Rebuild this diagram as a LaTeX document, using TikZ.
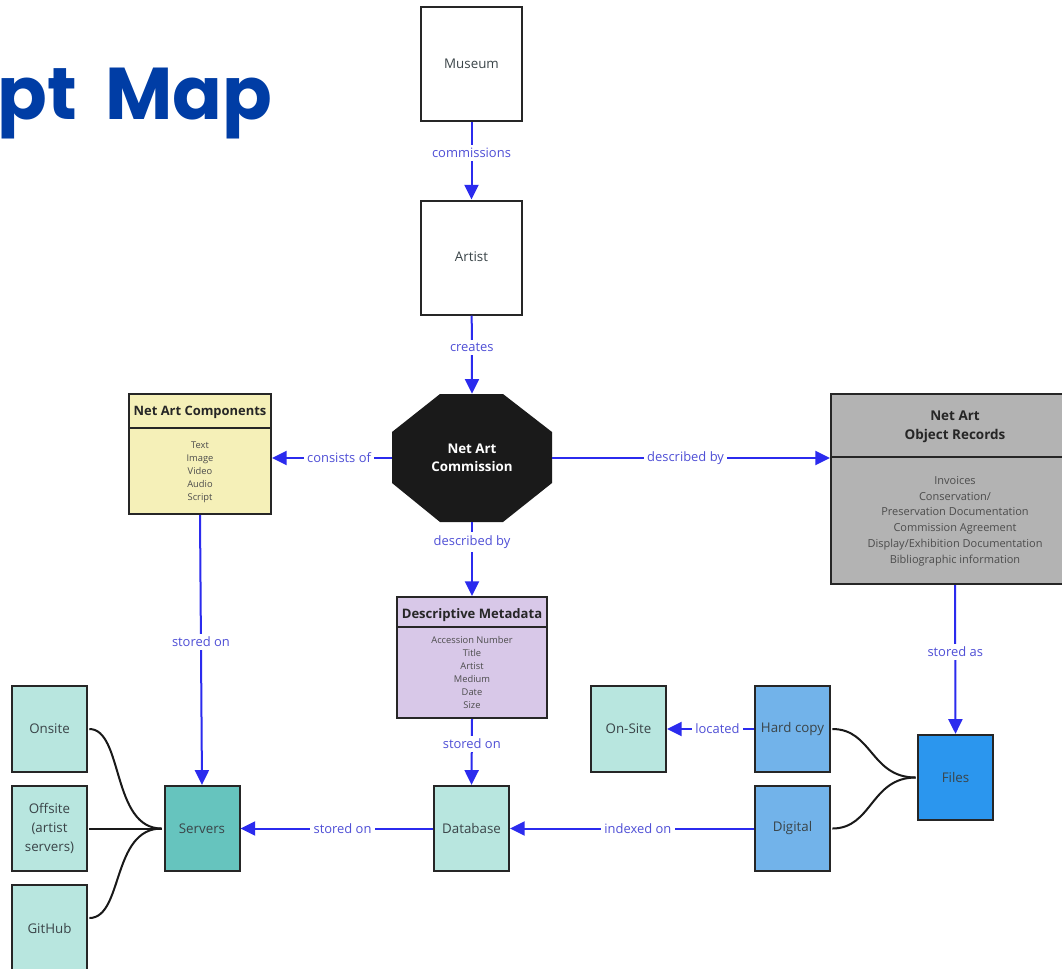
\documentclass[tikz,border=0pt]{standalone}
\usepackage{fontspec}
\setmainfont{Open Sans}
\newfontfamily\titlefont{Poppins}
\usetikzlibrary{arrows.meta}
\definecolor{titleblue}{HTML}{003DA5}
\definecolor{linkblue}{HTML}{2B2BEE}
\definecolor{labelblue}{HTML}{4F4FD6}
\definecolor{boxline}{HTML}{262626}
\definecolor{inktext}{HTML}{3A4448}
\definecolor{palegreen}{HTML}{B8E6DF}
\definecolor{tealfill}{HTML}{66C4BE}
\definecolor{midblue}{HTML}{72B3EA}
\definecolor{strongblue}{HTML}{2B96EE}
\definecolor{paleyellow}{HTML}{F5F0B8}
\definecolor{palepurple}{HTML}{D8C8E8}
\definecolor{midgrey}{HTML}{B3B3B3}
\definecolor{octblack}{HTML}{1A1A1A}
\tikzset{
  x=0.75pt,y=-0.75pt,
  box/.style={draw=boxline,line width=1.5pt,inner sep=0pt,align=center,text=inktext,font=\fontsize{10}{14}\selectfont},
  small/.style={box,minimum width=56.25pt,minimum height=64pt},
  tall/.style={box,minimum width=75.75pt,minimum height=85.5pt},
  boxtitle/.style={inner sep=0pt,align=center,text=black!85,font=\fontsize{9.7}{14}\selectfont\bfseries},
  boxbody/.style={inner sep=0pt,align=center,text=black!70},
  link/.style={draw=linkblue,line width=1.5pt,-{Triangle[length=11pt,width=10.5pt]}},
  tie/.style={draw=black!90,line width=1.5pt},
  lab/.style={fill=white,inner sep=2.5pt,text=labelblue,font=\fontsize{9.7}{12}\selectfont},
}
\begin{document}
\begin{tikzpicture}
\useasboundingbox (0,0) rectangle (1062,968);
\clip (0,0) rectangle (1062,968);
\fill[white] (0,0) rectangle (1062,968);

\node[anchor=base west,inner sep=0pt,text=titleblue,font=\fontsize{55}{60}\selectfont\titlefont\bfseries] (title) at (-3,119) {pt\hspace{10pt} Map};

% top boxes
\node[tall] (museum) at (471.5,64) {\raisebox{1pt}{Museum}};
\node[tall] (artist) at (471.5,257.5) {\raisebox{1pt}{Artist}};

% octagon
\fill[octblack] (440,394) -- (503,394) -- (552,432) -- (552,483) -- (503,522) -- (440,522) -- (392,483) -- (392,432) -- cycle;
\node[minimum width=120pt,minimum height=96pt,inner sep=0pt,align=center,text=white,font=\fontsize{10}{13.5}\selectfont\bfseries] (oct) at (472,458) {Net Art\\Commission};

% components
\node[box,fill=paleyellow,minimum width=106.5pt,minimum height=90pt] (comp) at (200,454) {};
\draw[boxline,line width=1.5pt] (comp.west |- 0,428) -- (comp.east |- 0,428);
\node[boxtitle] (compt) at (200,412) {Net Art Components};
\node[boxbody,font=\fontsize{7}{9.7}\selectfont] (compb) at (200,472) {Text\\Image\\Video\\Audio\\Script};

% records
\node[box,fill=midgrey,minimum width=186pt,minimum height=142.5pt] (rec) at (955,489) {};
\draw[boxline,line width=1.5pt] (rec.west |- 0,457) -- (rec.east |- 0,457);
\node[boxtitle,font=\fontsize{10.1}{14.2}\selectfont\bfseries] (rect) at (955,427) {Net Art\\Object Records};
\node[boxbody,font=\fontsize{8.25}{11.8}\selectfont] (recb) at (955,521) {Invoices\\Conservation/\\Preservation Documentation\\Commission Agreement\\Display/Exhibition Documentation\\Bibliographic information};

% descriptive
\node[box,fill=palepurple,minimum width=112.5pt,minimum height=90.75pt] (desc) at (472,657.5) {};
\draw[boxline,line width=1.5pt] (desc.west |- 0,627) -- (desc.east |- 0,627);
\node[boxtitle,font=\fontsize{9.8}{14}\selectfont\bfseries] (desct) at (472,615) {Descriptive Metadata};
\node[boxbody,font=\fontsize{7}{9.75}\selectfont] (descb) at (472,672) {Accession Number\\Title\\Artist\\Medium\\Date\\Size};

% lower boxes
\node[small,fill=palegreen] (onsite) at (49.5,729) {Onsite};
\node[small,fill=palegreen] (offsite) at (49.5,828.5) {Offsite\\(artist\\servers)};
\node[small,fill=palegreen] (github) at (49.5,928) {GitHub};
\node[small,fill=tealfill] (servers) at (202,828.5) {Servers};
\node[small,fill=palegreen] (database) at (471.5,828.5) {Database};
\node[small,fill=palegreen] (onsitetwo) at (628.5,729) {On-Site};
\node[small,fill=midblue] (hard) at (792.5,729) {Hard copy};
\node[small,fill=midblue] (digital) at (792.5,828.5) {Digital};
\node[small,fill=strongblue] (files) at (955.5,777.5) {Files};

% blue connectors
\draw[link] (museum) -- node[lab,pos=.4] {commissions} (artist);
\draw[link] (artist) -- node[lab,pos=.41] {creates} (oct.north);
\draw[link] (oct.west) -- node[lab,pos=.44] {consists of} (comp.east |- oct.west);
\draw[link] (oct.east) -- node[lab,pos=.48] {described by} (rec.west |- oct.east);
\draw[link] (oct.south) -- node[lab,pos=.27] {described by} (desc.north);
\draw[link] (comp.south) -- node[lab,pos=.47] {stored on} (servers.north);
\draw[link] (desc.south) -- node[lab,pos=.38] {stored on} (database.north);
\draw[link] (database) -- node[lab,pos=.47] {stored on} (servers);
\draw[link] (digital) -- node[lab,pos=.476] {indexed on} (database);
\draw[link] (hard) -- node[lab,pos=.42] {located} (onsitetwo);
\draw[link] (rec.south) -- node[lab,pos=.45] {stored as} (files.north);

% black ties
\coordinate (srvin) at ([xshift=-1.5pt]servers.west);
\coordinate (filesin) at ([xshift=-1pt]files.west);
\draw[tie] ([xshift=1pt]onsite.east) .. controls +(34,0) and +(-50,0) .. (srvin);
\draw[tie] ([xshift=1pt]offsite.east) -- (srvin);
\draw[tie] ([xshift=1pt,yshift=7.5pt]github.east) .. controls +(34,0) and +(-50,0) .. (srvin);
\draw[tie] ([xshift=1pt]hard.east) .. controls +(40,0) and +(-45,0) .. (filesin);
\draw[tie] ([xshift=1pt]digital.east) .. controls +(40,0) and +(-45,0) .. (filesin);
\end{tikzpicture}
\end{document}
